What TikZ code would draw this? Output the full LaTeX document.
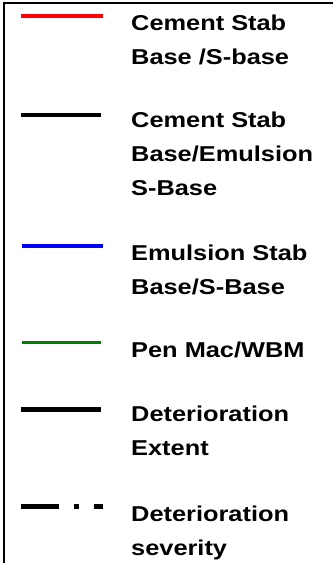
\documentclass[tikz,border=0pt]{standalone}
\usepackage{fontspec}
\setmainfont[FakeStretch=1.18]{Liberation Sans}
\begin{document}
\begin{tikzpicture}[x=1pt,y=-1pt,
  legtext/.style={anchor=base west,inner sep=0pt,align=left,
    font=\fontsize{21.5}{34}\selectfont\bfseries},
  legline/.style={line width=4.3pt},
  darkline/.style={line width=4.8pt,black}]
\useasboundingbox (0,0) rectangle (333,563);
% frame edges
\coordinate (tl) at (4.3,3);
\coordinate (tr) at (333,3);
\coordinate (bl) at (4.3,563);
\draw[line width=2pt] (bl) -- (tl) -- (tr);

% legend keys
\coordinate (a1) at (21,16);    \coordinate (b1) at (103,16);
\coordinate (a2) at (21,115);   \coordinate (b2) at (101,115);
\coordinate (a3) at (22,246);   \coordinate (b3) at (103,246);
\coordinate (a4) at (22,342.5); \coordinate (b4) at (101,342.5);
\coordinate (a5) at (21,409.5); \coordinate (b5) at (101,409.5);
\coordinate (a6) at (21,506.5); \coordinate (b6) at (103,506.5);
\draw[legline,red] (a1) -- (b1);
\draw[darkline] (a2) -- (b2);
\draw[legline,blue] (a3) -- (b3);
\draw[legline,line width=3.5pt,green!50!black] (a4) -- (b4);
\draw[darkline] (a5) -- (b5);
\draw[darkline,dash pattern=on 38pt off 15pt on 5pt off 15pt on 9pt off 20pt] (a6) -- (b6);

% legend labels (anchored at the baseline of their last line)
\node[legtext] (t1) at (131,64) {Cement Stab\\Base /S-base};
\node[legtext] (t2) at (131,195) {Cement Stab\\Base/Emulsion\\S-Base};
\node[legtext] (t3) at (131,294) {Emulsion Stab\\Base/S-Base};
\node[legtext] (t4) at (131,357) {Pen Mac/WBM};
\node[legtext] (t5) at (131,455) {Deterioration\\Extent};
\node[legtext] (t6) at (131,555) {Deterioration\\severity};
\end{tikzpicture}
\end{document}
